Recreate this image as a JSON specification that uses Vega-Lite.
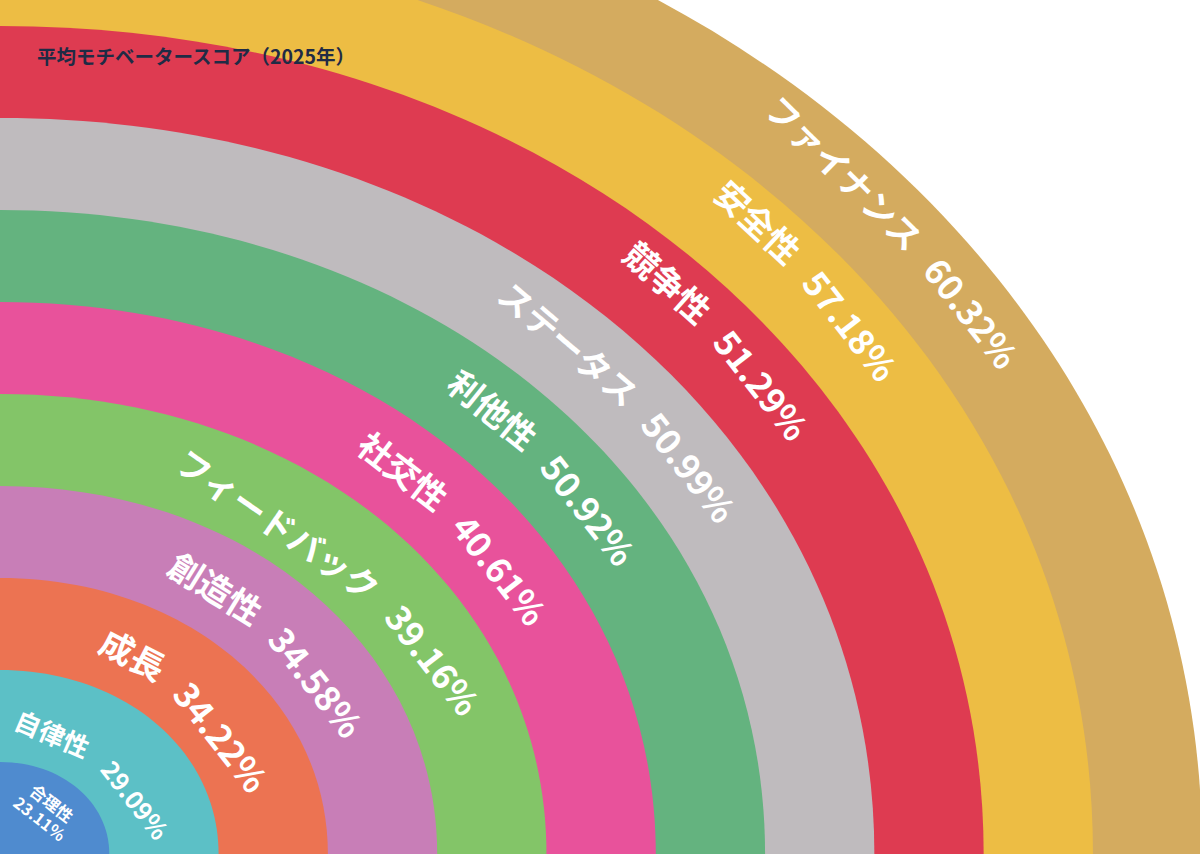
{
  "$schema": "https://vega.github.io/schema/vega-lite/v6.json",
  "width": 1200,
  "height": 854,
  "autosize": {"type": "none"},
  "padding": 0,
  "background": "#ffffff",
  "config": {"view": {"stroke": null}},
  "title": {
    "text": "平均モチベータースコア（2025年）",
    "anchor": "start",
    "frame": "group",
    "offset": -77,
    "dx": 37,
    "baseline": "middle",
    "fontSize": 19.5,
    "fontWeight": "bold",
    "font": "Noto Sans CJK JP",
    "color": "#1f2b45"
  },
  "data": {
    "values": [
      {"category": "合理性", "score": 0.2311},
      {"category": "自律性", "score": 0.2909},
      {"category": "成長", "score": 0.3422},
      {"category": "創造性", "score": 0.3458},
      {"category": "フィードバック", "score": 0.3916},
      {"category": "社交性", "score": 0.4061},
      {"category": "利他性", "score": 0.5092},
      {"category": "ステータス", "score": 0.5099},
      {"category": "競争性", "score": 0.5129},
      {"category": "安全性", "score": 0.5718},
      {"category": "ファイナンス", "score": 0.6032}
    ]
  },
  "transform": [
    {"window": [{"op": "row_number", "as": "rank"}], "sort": [{"field": "score", "order": "ascending"}]}
  ],
  "encoding": {
    "x": {"datum": 0, "type": "quantitative", "scale": {"domain": [0, 1]}, "axis": null},
    "y": {"datum": 0, "type": "quantitative", "scale": {"domain": [0, 1]}, "axis": null}
  },
  "layer": [
    {
      "mark": {"type": "point", "shape": "M0,0L1.188,0C1.188,-0.565,0.671,-1,0,-1Z", "filled": true, "opacity": 1, "strokeWidth": 0, "clip": true},
      "encoding": {
        "size": {"field": "rank", "type": "quantitative", "scale": {"type": "pow", "exponent": 2, "domain": [0, 11], "range": [0, 4096576]}, "legend": null},
        "color": {
          "field": "category",
          "type": "nominal",
          "scale": {
            "domain": ["ファイナンス", "安全性", "競争性", "ステータス", "利他性", "社交性", "フィードバック", "創造性", "成長", "自律性", "合理性"],
            "range": ["#d4ab5f", "#edbd44", "#de3b51", "#bfbbbe", "#64b37f", "#e8529b", "#83c568", "#c87eb7", "#ec7352", "#5cc0c6", "#4f8bcf"]
          },
          "legend": null
        },
        "order": {"field": "rank", "sort": "descending"}
      }
    },
    {
      "transform": [{"filter": {"field": "rank", "gte": 2}}],
      "mark": {"type": "text", "font": "Noto Sans CJK JP", "fontWeight": "bold", "color": "#ffffff", "align": "right", "baseline": "middle", "dx": -12},
      "encoding": {
        "text": {"field": "category"},
        "theta": {"field": "rank", "type": "quantitative", "scale": {"type": "linear", "domain": [2, 3, 4, 5, 6, 7, 8, 9, 10, 11], "range": [0.7854, 0.7767, 0.8604, 0.9896, 0.9215, 0.9303, 0.9634, 0.9338, 0.939, 0.9948]}},
        "radius": {"field": "rank", "type": "quantitative", "scale": {"type": "linear", "zero": false, "domain": [2, 11], "range": [139, 1100]}},
        "angle": {"field": "rank", "type": "quantitative", "scale": {"type": "linear", "domain": [2, 4, 6, 11], "range": [23, 31.7, 37.5, 44.5]}, "legend": null},
        "size": {"field": "rank", "type": "quantitative", "scale": {"type": "linear", "domain": [2, 3], "range": [26, 34], "clamp": true}, "legend": null}
      }
    },
    {
      "transform": [{"filter": {"field": "rank", "gte": 2}}],
      "mark": {"type": "text", "font": "Noto Sans CJK JP", "fontWeight": "bold", "color": "#ffffff", "align": "left", "baseline": "middle", "dx": 12},
      "encoding": {
        "text": {"field": "score", "type": "quantitative", "format": ".2%"},
        "theta": {"field": "rank", "type": "quantitative", "scale": {"type": "linear", "domain": [2, 3, 4, 5, 6, 7, 8, 9, 10, 11], "range": [0.7854, 0.7767, 0.8604, 0.9896, 0.9215, 0.9303, 0.9634, 0.9338, 0.939, 0.9948]}},
        "radius": {"field": "rank", "type": "quantitative", "scale": {"type": "linear", "zero": false, "domain": [2, 11], "range": [139, 1100]}},
        "angle": {"field": "rank", "type": "quantitative", "scale": {"type": "linear", "domain": [2, 4, 11], "range": [52, 52, 52]}, "legend": null},
        "size": {"field": "rank", "type": "quantitative", "scale": {"type": "linear", "domain": [2, 3], "range": [25, 35], "clamp": true}, "legend": null}
      }
    },
    {
      "transform": [{"filter": {"field": "rank", "equal": 1}}],
      "mark": {"type": "text", "font": "Noto Sans CJK JP", "fontWeight": "bold", "color": "#ffffff", "align": "center", "baseline": "middle", "dy": -9.5, "fontSize": 16.5, "angle": 38},
      "encoding": {
        "text": {"field": "category"},
        "theta": {"field": "rank", "type": "quantitative", "scale": {"type": "linear", "domain": [0, 1], "range": [0, 0.82]}},
        "radius": {"field": "rank", "type": "quantitative", "scale": {"type": "linear", "domain": [0, 1], "range": [0, 61.6]}}
      }
    },
    {
      "transform": [{"filter": {"field": "rank", "equal": 1}}],
      "mark": {"type": "text", "font": "Noto Sans CJK JP", "fontWeight": "bold", "color": "#ffffff", "align": "center", "baseline": "middle", "dy": 10, "fontSize": 16.5, "angle": 38},
      "encoding": {
        "text": {"field": "score", "type": "quantitative", "format": ".2%"},
        "theta": {"field": "rank", "type": "quantitative", "scale": {"type": "linear", "domain": [0, 1], "range": [0, 0.82]}},
        "radius": {"field": "rank", "type": "quantitative", "scale": {"type": "linear", "domain": [0, 1], "range": [0, 61.6]}}
      }
    }
  ],
  "resolve": {"scale": {"size": "independent", "theta": "independent", "radius": "independent", "angle": "independent"}}
}
